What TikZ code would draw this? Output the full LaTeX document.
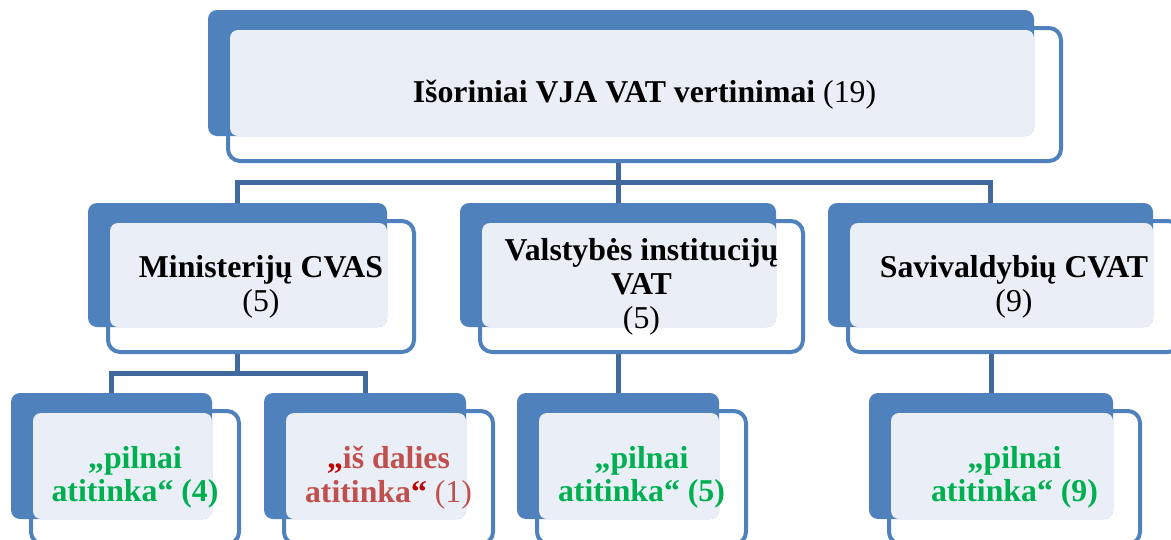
\documentclass[tikz,border=0pt]{standalone}
\usepackage{fontspec}
\setmainfont{Liberation Serif}
\usetikzlibrary{fit}
\definecolor{boxblue}{RGB}{79,129,189}
\definecolor{boxlight}{RGB}{234,239,247}
\definecolor{linkblue}{RGB}{65,105,158}
\definecolor{okgreen}{RGB}{0,176,80}
\definecolor{partred}{RGB}{192,80,77}
\definecolor{quotered}{RGB}{192,0,0}
\tikzset{
  outerbox/.style={draw=boxblue,line width=4pt,fill=white,rounded corners=12pt,inner sep=0pt},
  backbox/.style={fill=boxblue,rounded corners=9pt,inner sep=0pt},
  lightbox/.style={fill=boxlight,rounded corners=8pt},
  link/.style={draw=linkblue,line width=5pt,line cap=butt,line join=miter},
  boxtext/.style={align=center,inner sep=0pt,font=\fontsize{31.8}{34}\selectfont},
  oktext/.style={boxtext,text=okgreen,font=\fontsize{31.8}{33}\selectfont\bfseries}
}
\begin{document}
\begin{tikzpicture}[line cap=round,line join=round,x=1pt,y=-1pt]
\useasboundingbox (0,0) rectangle (1171,539);
\clip (0,0) rectangle (1171,539);
\node[outerbox,fit={(228,28) (1061,161)}] (vjaw) {};
\node[backbox,fit={(208,10) (1034,136)}] (vjab) {};
\fill[lightbox] (230,30) rectangle (1034,136);
\node[boxtext] (vja) at (vjaw) {\textbf{Išoriniai VJA VAT vertinimai} (19)};

\node[outerbox,fit={(108,221) (414,352)}] (minw) {};
\node[backbox,fit={(88,203) (387,327)}] (minb) {};
\fill[lightbox] (110,223) rectangle (387,327);
\node[boxtext] (min) at (minw) {\textbf{Ministerijų CVAS}\\(5)};

\node[outerbox,fit={(480,221) (803,352)}] (valw) {};
\node[backbox,fit={(460,203) (776,327)}] (valb) {};
\fill[lightbox] (482,223) rectangle (776,327);
\node[boxtext] (val) at (valw) {\textbf{Valstybės institucijų}\\\textbf{VAT}\\(5)};

\node[outerbox,fit={(848,221) (1180,352)}] (savw) {};
\node[backbox,fit={(828,203) (1153,327)}] (savb) {};
\fill[lightbox] (850,223) rectangle (1153,327);
\node[boxtext] (sav) at (savw) {\textbf{Savivaldybių CVAT}\\(9)};

\node[outerbox,fit={(31,411) (239,544)}] (pil4w) {};
\node[backbox,fit={(11,393) (212,519)}] (pil4b) {};
\fill[lightbox] (33,413) rectangle (212,519);
\node[oktext] (pil4) at (pil4w) {„pilnai\\atitinka“ (4)};

\node[outerbox,fit={(284,411) (493,544)}] (dalw) {};
\node[backbox,fit={(264,393) (466,519)}] (dalb) {};
\fill[lightbox] (286,413) rectangle (466,519);
\node[boxtext,text=partred] (dal) at (dalw) {\textbf{\textcolor{quotered}{„}iš dalies}\\\textbf{atitinka\textcolor{quotered}{“}} (1)};

\node[outerbox,fit={(537,411) (746,544)}] (pil5w) {};
\node[backbox,fit={(517,393) (719,519)}] (pil5b) {};
\fill[lightbox] (539,413) rectangle (719,519);
\node[oktext] (pil5) at (pil5w) {„pilnai\\atitinka“ (5)};

\node[outerbox,fit={(889,411) (1140,544)}] (pil9w) {};
\node[backbox,fit={(869,393) (1113,519)}] (pil9b) {};
\fill[lightbox] (891,413) rectangle (1113,519);
\node[oktext] (pil9) at (pil9w) {„pilnai\\atitinka“ (9)};

\draw[link] (valb.north |- vjaw.south) -- ++(0,19) coordinate (vjaj) -- (valb.north);
\draw[link] (minb.north) |- (vjaj) -| (savb.north);
\draw[link] (minb.south |- minw.south) -- ++(0,19) coordinate (minj);
\draw[link] (pil4b.north) |- (minj) -| (dalb.north);
\draw[link] (pil5b.north |- valw.south) -- (pil5b.north);
\draw[link] (pil9b.north |- savw.south) -- (pil9b.north);
\end{tikzpicture}
\end{document}
